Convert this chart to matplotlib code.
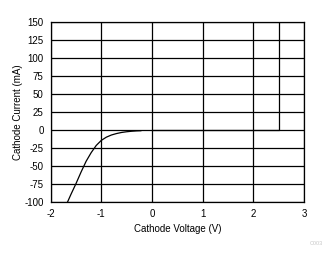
import matplotlib
matplotlib.use('Agg')
import matplotlib.pyplot as plt

# 資料
voltage = [-1.67, -1.6, -1.5, -1.4, -1.3, -1.2, -1.1, -1.0, -0.9, -0.8,
           -0.7, -0.6, -0.5, -0.4, -0.3, -0.22]
current = [-100, -89, -74, -58, -43, -31, -21, -14, -9.5, -6.5,
           -4.5, -3, -2, -1.3, -0.8, -0.6]
limit_v = [0, 2.5, 2.5]
limit_i = [0, 0, 160]
xticks = [-2, -1, 0, 1, 2, 3]
yticks = [-100, -75, -50, -25, 0, 25, 50, 75, 100, 125, 150]

plt.rcParams['font.family'] = ['Liberation Sans', 'DejaVu Sans']
plt.rcParams['axes.unicode_minus'] = False

fig = plt.figure(figsize=(3.33, 2.54), dpi=100)
ax = fig.add_axes([0.152, 0.203, 0.761, 0.71])

ax.plot(voltage, current, color='black', lw=0.9)
ax.plot(limit_v, limit_i, color='black', lw=0.9)

ax.set_xlim(-2, 3)
ax.set_ylim(-100, 150)
ax.set_xticks(xticks)
ax.set_yticks(yticks)
ax.tick_params(length=0, labelsize=7, pad=5)
ax.grid(True, color='black', lw=0.9)
for s in ax.spines.values():
    s.set_linewidth(0.9)

ax.set_xlabel('Cathode Voltage (V)', fontsize=7, labelpad=3)
ax.set_ylabel('Cathode Current (mA)', fontsize=7, labelpad=1)
fig.text(0.97, 0.035, 'C003', fontsize=4, color='#c8c8c8', ha='right')

fig.savefig('out.png', dpi=100)
